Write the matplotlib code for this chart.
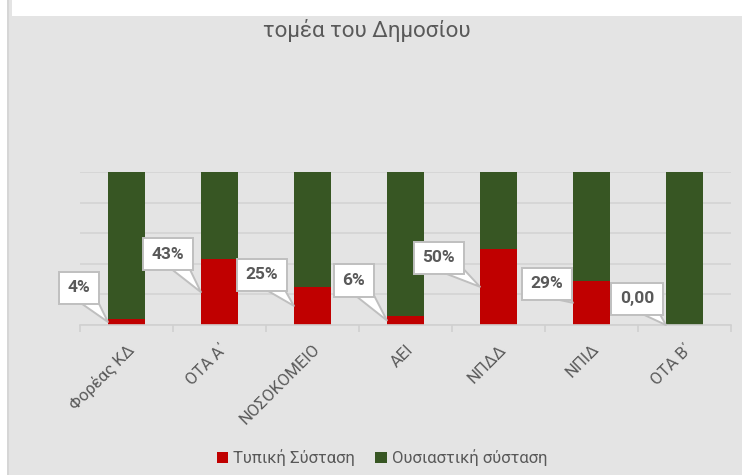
import matplotlib
matplotlib.use("Agg")
import matplotlib.pyplot as plt
from matplotlib.patches import Rectangle
import numpy as np

plt.rcParams['font.family'] = ['Roboto', 'DejaVu Sans']

# data
categories = ['Φορέας ΚΔ', 'ΟΤΑ Α΄', 'ΝΟΣΟΚΟΜΕΙΟ', 'ΑΕΙ', 'ΝΠΔΔ', 'ΝΠΙΔ', 'ΟΤΑ Β΄']
typiki = [4, 43, 25, 6, 50, 29, 0]
ousiastiki = [96, 57, 75, 94, 50, 71, 100]
labels = ['4%', '43%', '25%', '6%', '50%', '29%', '0,00']
series_names = ['Τυπική Σύσταση', 'Ουσιαστική σύσταση']

# callout offsets (pixels, box centre relative to pointer tip)
label_offsets = [(-29, 34), (-33, 38), (-32, 31), (-33, 40), (-41, 29), (-26, 19), (-29, 26)]

RED = '#C00000'
GREEN = '#375623'
GRAY_TXT = '#595959'
BG = '#E4E4E4'

fig = plt.figure(figsize=(7.42, 4.75), dpi=100, facecolor='white')
# chart area background + left border
fig.patches.append(Rectangle((9 / 742, 0), 1, (475 - 16) / 475, transform=fig.transFigure,
                             facecolor=BG, edgecolor='none', zorder=-10))
fig.patches.append(Rectangle((7 / 742, 0), 2 / 742, 1, transform=fig.transFigure,
                             facecolor='#D6D6D6', edgecolor='none', zorder=-10))
fig.patches.append(Rectangle((9 / 742, (475 - 16) / 475), 3 / 742, 16 / 475, transform=fig.transFigure,
                             facecolor=BG, edgecolor='none', zorder=-10))

ax = fig.add_axes([80 / 742, (475 - 325) / 475, 651 / 742, 153 / 475])
ax.patch.set_alpha(0)

x = np.arange(len(categories))
w = 0.4
ax.bar(x, typiki, w, color=RED, label=series_names[0], zorder=2)
ax.bar(x, ousiastiki, w, bottom=typiki, color=GREEN, label=series_names[1], zorder=2)

ax.set_xlim(-0.5, len(categories) - 0.5)
ax.set_ylim(0, 100)
ax.set_yticks([0, 20, 40, 60, 80, 100])
ax.yaxis.grid(True, color='#D4D4D4', lw=1.2, zorder=0)
ax.set_yticklabels([])
ax.tick_params(axis='y', length=0)

for s in ['top', 'right', 'left']:
    ax.spines[s].set_visible(False)
ax.spines['bottom'].set_color('#D0D0D0')
ax.spines['bottom'].set_linewidth(1.2)

ax.set_xticks(x)
ax.set_xticklabels(categories, rotation=45, ha='right', va='top', rotation_mode='anchor',
                   fontsize=12, color=GRAY_TXT)
ax.set_xticks(np.arange(-0.5, len(categories)), minor=True)
ax.tick_params(axis='x', which='major', length=0, pad=12)
ax.tick_params(axis='x', which='minor', length=5, color='#D0D0D0', width=1.2)

# callout data labels
for i, (val, lab, off) in enumerate(zip(typiki, labels, label_offsets)):
    tip = (x[i] - w / 2, val / 2)
    ax.annotate(lab, xy=tip, xytext=off, textcoords='offset pixels',
                ha='center', va='center', fontsize=12.5, fontweight='bold', color=GRAY_TXT,
                bbox=dict(boxstyle='square,pad=0.5', fc='white', ec='#BFBFBF', lw=1.4),
                arrowprops=dict(arrowstyle='wedge,tail_width=1.1,shrink_factor=0.5',
                                fc='white', ec='#BFBFBF', lw=1.4, relpos=(0.72, 0.1),
                                patchA=None, shrinkA=0, shrinkB=0),
                zorder=5, annotation_clip=False)

fig.text(367 / 742, (475 - 30) / 475, 'τομέα του Δημοσίου', ha='center', va='center',
         fontsize=16, color=GRAY_TXT)

fig.legend(loc='center', bbox_to_anchor=(382 / 742, (475 - 458) / 475), ncol=2, frameon=False,
           fontsize=12, labelcolor=GRAY_TXT, handlelength=0.7, handleheight=0.7,
           handletextpad=0.3, columnspacing=1.2)

fig.savefig('out.png', dpi=100, facecolor=fig.get_facecolor())
